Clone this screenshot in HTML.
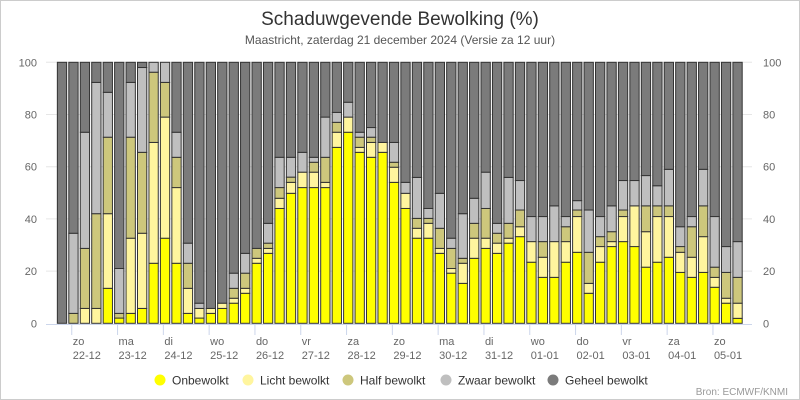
<!DOCTYPE html>
<html><head><meta charset="utf-8"><style>
html,body{margin:0;padding:0;background:#fff}
svg{display:block;font-family:"Liberation Sans",sans-serif}
</style></head><body>
<svg id="chart" width="800" height="400" viewBox="0 0 800 400">
<rect x="0.5" y="0.5" width="799" height="399" fill="#fff" stroke="#ccc"/>
<text x="400" y="25" text-anchor="middle" font-size="19" fill="#333">Schaduwgevende Bewolking (%)</text>
<text x="400" y="44" text-anchor="middle" font-size="12" fill="#555">Maastricht, zaterdag 21 december 2024 (Versie za 12 uur)</text>
<g id="grid"></g><g id="bars"></g><g id="axes"></g>
<g id="legend"></g>
<text x="788" y="395" text-anchor="end" font-size="10" fill="#999">Bron: ECMWF/KNMI</text>
</svg>
<script>
// cumulative tops (%) per 6h step
const cumOnbewolkt=[0,0,0,0,13.4,2,3.8,5.7,23,32.6,23,3.8,2,3.8,5.7,7.7,11.5,23,26.8,44,49.8,52,52,52,67.4,73.2,65.5,63.6,65.5,54,44,32.6,32.6,26.8,19.2,15.3,24.9,28.7,26.8,30.7,33.2,23.4,17.6,17.6,23.4,27.2,11.5,23.4,29.4,31.3,29.4,21.5,23.4,25.3,19.5,17.6,19.5,13.8,7.7,1.9];
const cumLicht=[0,0,5.7,5.7,42,2,32.6,34.5,69.3,79,52,13.4,5.7,5.7,7.7,9.6,13.4,24.9,28.7,47.9,54,57.9,57.9,54,73.2,79,67.4,69.3,69.3,59.8,49.8,36.4,38.3,28.7,21,23,32.6,32.6,30.7,32.6,37,31.3,25.3,31.3,31.3,40.9,15.3,29.4,31.3,40.9,45,35.1,40.9,40.9,27.2,25.3,33.2,17.6,9.6,7.7];
const cumHalf=[0,3.8,28.7,42,71.3,3.8,71.3,65.5,96.2,92.3,63.6,23,5.7,5.7,7.7,13.4,19.2,28.7,30.7,52,56,57.9,61.7,63.6,77,79,71.3,71.3,69.3,61.7,49.8,40.2,40.2,36.4,28.7,24.9,38.3,44,34.5,38.3,43.4,31.3,31.3,31.3,37,43.4,27.2,33.2,35.1,43.4,45,45,45,45,29.4,37,45,21.5,19.5,17.6];
const cumZwaar=[0,34.5,73.2,92.3,88.5,21,92.3,98,100,100,73.2,30.7,7.7,5.7,7.7,19.2,26.8,28.7,38.3,63.6,63.6,65.5,63.6,79,80.8,84.7,73.2,75,69.3,69.3,54,55.9,44,49.8,32.6,42,47.9,57.9,38.3,55.9,54.7,40.9,40.9,45,40.9,47,43.4,40.9,45,54.7,54.7,56.6,52.7,59,37,40.9,59,40.9,29.4,31.3];
const dayNames=["zo","ma","di","wo","do","vr","za","zo","ma","di","wo","do","vr","za","zo"];
const dayDates=["22-12","23-12","24-12","25-12","26-12","27-12","28-12","29-12","30-12","31-12","01-01","02-01","03-01","04-01","05-01"];
const yTicks=[0,20,40,60,80,100];
const seriesNames=["Onbewolkt","Licht bewolkt","Half bewolkt","Zwaar bewolkt","Geheel bewolkt"];
const colors=["#ffff00","#fff59e","#cdc77c","#bfbfbf","#7b7b7b"];
const NS="http://www.w3.org/2000/svg";
const X0=62,STEP=11.45,BW=9.3;
const x=i=>X0+i*STEP;
const y=v=>323.3-v*2.61;
function mk(tag,attrs,parent){const e=document.createElementNS(NS,tag);for(const k in attrs)e.setAttribute(k,attrs[k]);parent.appendChild(e);return e;}
const grid=document.getElementById('grid'),bars=document.getElementById('bars'),axes=document.getElementById('axes'),legend=document.getElementById('legend');
yTicks.forEach(t=>{
  if(t>0){const g=mk('line',{x1:46,x2:752,y1:y(t),y2:y(t),stroke:'#e6e6e6'},grid);
  
  }
  const l=mk('text',{x:37,y:y(t)+4,'text-anchor':'end','font-size':11,fill:'#666'},axes);l.textContent=t;
  
  
  const r=mk('text',{x:763,y:y(t)+4,'text-anchor':'start','font-size':11,fill:'#666'},axes);r.textContent=t;
  
  
});
for(let i=0;i<cumOnbewolkt.length;i++){
  let prev=0;
  const tops=[cumOnbewolkt[i],cumLicht[i],cumHalf[i],cumZwaar[i],100];
  for(let s=0;s<5;s++){
    const top=Math.max(tops[s],prev);
    if(top-prev>0.01){
      const r=mk('rect',{x:x(i)-BW/2,y:y(top),width:BW,height:y(prev)-y(top),fill:colors[s],stroke:'#333','stroke-width':1},bars);
      
      
    }
    prev=top;
  }
}
const ax=mk('line',{x1:46,x2:752,y1:324.5,y2:324.5,stroke:'#ccd6eb'},axes);


dayNames.forEach((d,k)=>{
  const tx=x(1+4*k)-1.7;
  const t=mk('line',{x1:tx,x2:tx,y1:325,y2:335,stroke:'#ccd6eb'},axes);
  
  
  const a=mk('text',{x:tx+1,y:345,'font-size':11,fill:'#666'},axes);a.textContent=d;
  
  
  const b=mk('text',{x:tx+1,y:359,'font-size':11,fill:'#666'},axes);b.textContent=dayDates[k];
  
  
});
const lx=[160,248,348,446,553];
seriesNames.forEach((n,s)=>{
  const c=mk('circle',{cx:lx[s],cy:380,r:5.5,fill:colors[s]},legend);
  
  
  const t=mk('text',{x:lx[s]+12,y:384.5,'font-size':12,fill:'#333'},legend);t.textContent=n;
  
  
});
</script>
</body></html>
